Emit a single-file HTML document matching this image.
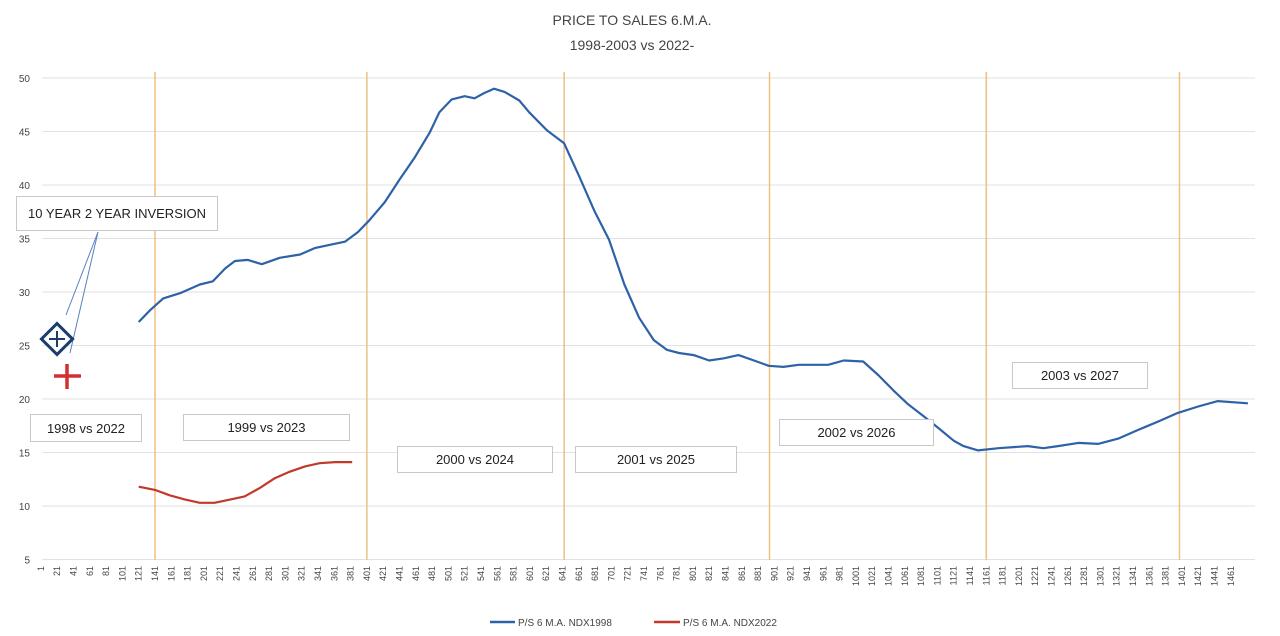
<!DOCTYPE html>
<html><head><meta charset="utf-8"><style>
body{margin:0;background:#fff;font-family:"Liberation Sans",sans-serif}
#wrap{position:relative;width:1280px;height:636px;overflow:hidden;background:#fff}
.box{position:absolute;border:1px solid #c8c8c8;background:#fff;font-size:13px;color:#222;display:flex;align-items:center;justify-content:center;box-sizing:border-box}
</style></head><body>
<div id="wrap">
<svg id="svg" width="1280" height="636"></svg>
<div class="box" style="left:16px;top:196px;width:202px;height:35px">10 YEAR 2 YEAR INVERSION</div>
<div class="box" style="left:30px;top:414px;width:112px;height:28px">1998 vs 2022</div>
<div class="box" style="left:183px;top:414px;width:167px;height:27px">1999 vs 2023</div>
<div class="box" style="left:397px;top:446px;width:156px;height:27px">2000 vs 2024</div>
<div class="box" style="left:575px;top:446px;width:162px;height:27px">2001 vs 2025</div>
<div class="box" style="left:779px;top:419px;width:155px;height:27px">2002 vs 2026</div>
<div class="box" style="left:1012px;top:362px;width:136px;height:27px">2003 vs 2027</div>
</div>
<script>
const blueIdx=[121,135,151,172,196,212,227,239,255,272,294,319,337,355,374,390,404,423,441,459,478,490,505,521,533,545,557,570,588,600,622,643,661,680,698,717,735,753,769,784,802,821,839,857,876,894,912,931,967,986,1010,1029,1047,1065,1084,1102,1121,1133,1151,1176,1212,1231,1249,1274,1298,1323,1347,1372,1396,1421,1445,1482];
const blueVal=[27.2,28.3,29.4,29.9,30.7,31.0,32.2,32.9,33.0,32.6,33.2,33.5,34.1,34.4,34.7,35.6,36.7,38.4,40.5,42.5,44.9,46.8,48.0,48.3,48.1,48.6,49.0,48.7,47.9,46.8,45.1,43.9,40.9,37.6,34.9,30.7,27.6,25.5,24.6,24.3,24.1,23.6,23.8,24.1,23.6,23.1,23.0,23.2,23.2,23.6,23.5,22.2,20.8,19.5,18.4,17.3,16.1,15.6,15.2,15.4,15.6,15.4,15.6,15.9,15.8,16.3,17.1,17.9,18.7,19.3,19.8,19.6];
const redIdx=[121,141,159,178,196,214,233,251,270,288,306,325,343,362,383];
const redVal=[11.8,11.5,11.0,10.6,10.3,10.3,10.6,10.9,11.7,12.6,13.2,13.7,14.0,14.1,14.1];
const yTicks=[5,10,15,20,25,30,35,40,45,50];
const vLines=[141,401,643,895,1161,1398];
const xLabelStart=1, xLabelEnd=1461, xLabelStep=20;
const NS="http://www.w3.org/2000/svg";
const svg=document.getElementById('svg');
const X=i=>155+(i-141)*0.815;
const Y=v=>78+(50-v)*10.7;
function mk(t,a){const e=document.createElementNS(NS,t);for(const k in a)e.setAttribute(k,a[k]);svg.appendChild(e);return e;}
let t=mk('text',{x:632,y:25,'text-anchor':'middle','font-size':14,fill:'#444'});t.textContent='PRICE TO SALES 6.M.A.';


t=mk('text',{x:632,y:50,'text-anchor':'middle','font-size':14,fill:'#444'});t.textContent='1998-2003 vs 2022-';


yTicks.forEach(v=>{
 const g=mk('line',{x1:42,x2:1255,y1:Y(v),y2:Y(v),stroke:'#e2e2e2','stroke-width':1});
 
 
 const l=mk('text',{x:30,y:Y(v)+4,'text-anchor':'end','font-size':10,fill:'#444'});l.textContent=v;
 
 
});
vLines.forEach(i=>{
 const l=mk('line',{x1:X(i),x2:X(i),y1:72,y2:560,stroke:'#f0c080','stroke-width':1.5});
 
 
});
for(let i=xLabelStart;i<=xLabelEnd;i+=xLabelStep){
 const l=mk('text',{x:0,y:0,'text-anchor':'end','font-size':9,fill:'#444',transform:`translate(${X(i)+3},566) rotate(-90)`});
 l.textContent=i;
 
 
}
function line(idx,val,col,name){
 const d=idx.map((i,k)=>(k?'L':'M')+X(i).toFixed(1)+','+Y(val[k]).toFixed(1)).join('');
 const p=mk('path',{d:d,fill:'none',stroke:col,'stroke-width':2.2,'stroke-linejoin':'round'});
 
 
}
line(blueIdx,blueVal,'#2e62a8','series-ndx1998');
line(redIdx,redVal,'#c0392b','series-ndx2022');
mk('line',{x1:98,y1:232,x2:66,y2:315,stroke:'#5a80c0','stroke-width':1});
mk('line',{x1:98,y1:232,x2:70,y2:353,stroke:'#5a80c0','stroke-width':1});
let dm=mk('g',{});


dm.innerHTML='<rect x="-11" y="-11" width="22" height="22" fill="#fff" stroke="#1c3d6b" stroke-width="3" transform="translate(57,339) rotate(45)"/><line x1="49" y1="339" x2="65" y2="339" stroke="#1c3d6b" stroke-width="2"/><line x1="57" y1="331" x2="57" y2="347" stroke="#1c3d6b" stroke-width="2"/>';
let cr=mk('g',{});


cr.innerHTML='<line x1="54" y1="376" x2="81" y2="376" stroke="#d03030" stroke-width="3.5"/><line x1="67" y1="364" x2="67" y2="389" stroke="#d03030" stroke-width="3.5"/>';
let lg=mk('g',{});


lg.innerHTML='<line x1="490" y1="622" x2="515" y2="622" stroke="#2e62a8" stroke-width="2.5"/><text x="518" y="626" font-size="10" fill="#444">P/S 6 M.A. NDX1998</text><line x1="654" y1="622" x2="680" y2="622" stroke="#c0392b" stroke-width="2.5"/><text x="683" y="626" font-size="10" fill="#444">P/S 6 M.A. NDX2022</text>';
</script>
</body></html>
